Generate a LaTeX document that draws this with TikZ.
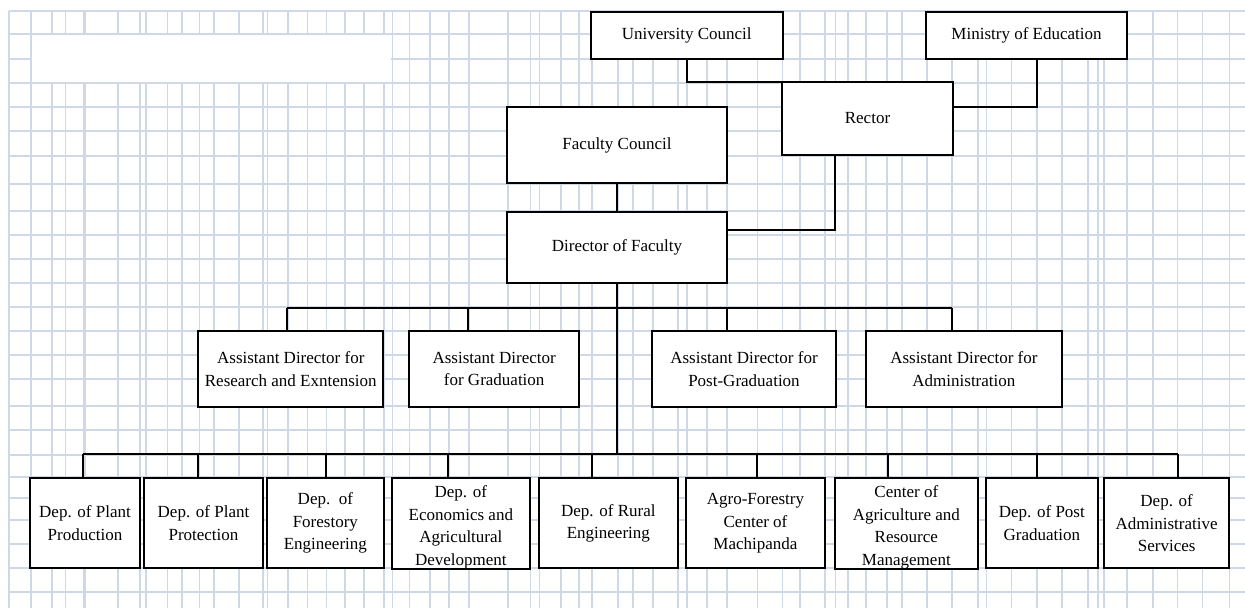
\documentclass[tikz,border=0pt]{standalone}
\usepackage{fontspec}
\setmainfont{Liberation Serif}
\usetikzlibrary{calc}
\definecolor{gridc}{HTML}{CFD8E6}
\tikzset{
  gridline/.style={draw=gridc, line width=1.7pt},
  box/.style={draw=black, line width=2pt, fill=white, align=center,
    inner sep=0pt, outer sep=0pt, font=\fontsize{17}{22.5}\selectfont},
  conn/.style={draw=black, line width=2pt},
}
% taller first line, so that a four-line label sits a little low in its box
\newcommand{\lowstart}{\rule{0pt}{20pt}}
\begin{document}
\begin{tikzpicture}[x=1pt,y=-1pt]
\useasboundingbox (0,0) rectangle (1245,608);
\fill[white] (0,0) rectangle (1245,608);

% cell grid of the page
\foreach \x in {8.7,30.8,51.8,65.6,118.2,139.9,145.8,167.6,181.8,199.6,213.8,
  238.7,262.8,267.6,287.7,307.5,326.5,344.7,364,384.2,392.5,409.5,430,449,
  469.2,508.3,530.4,539.5,560.9,579,592,618,632.7,652.7,678.2,686.9,706.9,
  726.8,757.5,782.5,800.1,825.2,835.5,847.9,865.8,887.3,901.7,926.8,951.9,
  977.8,986.5,1011.6,1037.1,1062.2,1087.7,1097.7,1104.1,1127.2,1152.7,
  1177.4,1202.5,1229.6}
  \draw[gridline] (\x,11) -- (\x,608);
\draw[gridline, line width=3pt] (84.6,11) -- (84.6,608);
\foreach \y in {11,34,59,83,107,131,156,184,211,235,259,283,307,331,355,
  379,406,430,455,477,498,520,544,568,592}
  \draw[gridline] (8.7,\y) -- (1245,\y);
% merged blank cell at top left
\fill[white] (32.3,35.4) rectangle (391.1,81.6);

% governing bodies
\node[box, minimum width=192pt, minimum height=47pt] (UC) at (686.7,35.2) {University Council};
\node[box, minimum width=201pt, minimum height=47pt] (ME) at (1026.5,35.2) {Ministry of Education};
\node[box, minimum width=171pt, minimum height=73pt] (Rector) at (867.5,118.5) {Rector};
\node[box, minimum width=220pt, minimum height=76pt] (FC) at (617,145) {Faculty Council};
\node[box, minimum width=220pt, minimum height=71pt] (Dir) at (617,247.5) {Director of Faculty};

% assistant directors
\node[box, minimum width=185pt, minimum height=76pt] (AD1) at (290.8,369) {Assistant Director for\\Research and Exntension};
\node[box, minimum width=169.7pt, minimum height=76pt] (AD2) at (494.2,369) {Assistant Director\\for Graduation};
\node[box, minimum width=183.4pt, minimum height=76pt] (AD3) at (744,369) {Assistant Director for\\Post-Graduation};
\node[box, minimum width=196.8pt, minimum height=76pt] (AD4) at (963.9,369) {Assistant Director for\\Administration};

% departments and centres
\node[box, minimum width=110pt, minimum height=90pt] (D1) at (85,523.3) {Dep. of Plant\\Production};
\node[box, minimum width=118.4pt, minimum height=90pt] (D2) at (203.5,523.3) {Dep. of Plant\\Protection};
\node[box, minimum width=117.3pt, minimum height=90pt] (D3) at (325.35,523.3) {Dep.~~of\\Forestory\\Engineering};
\node[box, minimum width=138.3pt, minimum height=90pt] (D4) at (460.85,523.3) {\lowstart Dep. of\\Economics and\\Agricultural\\Development};
\node[box, minimum width=138.7pt, minimum height=90pt] (D5) at (608.35,523.3) {Dep. of Rural\\Engineering};
\node[box, minimum width=139pt, minimum height=90pt] (D6) at (755.5,523.3) {Agro-Forestry\\Center of\\Machipanda};
\node[box, minimum width=142.7pt, minimum height=90pt] (D7) at (906.35,523.3) {\lowstart Center of\\Agriculture and\\Resource\\Management};
\node[box, minimum width=111.7pt, minimum height=90pt] (D8) at (1041.85,523.3) {Dep. of Post\\Graduation};
\node[box, minimum width=125.3pt, minimum height=90pt] (D9) at (1166.65,523.3) {Dep. of\\Administrative\\Services};
% the lowered labels run into the bottom border: draw those edges again on top
\draw[conn] (D4.south west) -- (D4.south east);
\draw[conn] (D7.south west) -- (D7.south east);

% knee points of the upper connectors
\coordinate (kME) at (1036.7,106.7);
\coordinate (kR) at (835,230);
\draw[conn] (UC.south) |- (Rector.north west);
\draw[conn] (ME.south -| kME) |- (Rector.east |- kME);
\draw[conn] (Rector.south -| kR) |- (Dir.east |- kR);
\draw[conn] (FC.south) -- (Dir.north);

% bus to the assistant directors
\coordinate (a1) at (287.3,307.7);
\coordinate (a2) at (468.3,307.7);
\coordinate (a3) at (726.7,307.7);
\coordinate (a4) at (952.3,307.7);
\draw[conn] (a1) -- (a4);
\draw[conn] (a1) -- (a1 |- AD1.north);
\draw[conn] (a2) -- (a2 |- AD2.north);
\draw[conn] (a3) -- (a3 |- AD3.north);
\draw[conn] (a4) -- (a4 |- AD4.north);

% bus to the departments
\coordinate (b1) at (83.3,454);
\coordinate (b2) at (198.3,454);
\coordinate (b3) at (326,454);
\coordinate (b4) at (448.3,454);
\coordinate (b5) at (591.7,454);
\coordinate (b6) at (757.3,454);
\coordinate (b7) at (887.7,454);
\coordinate (b8) at (1037.3,454);
\coordinate (b9) at (1177.7,454);
\draw[conn] (Dir.south) -- (Dir.south |- b1);
\draw[conn] (b1) -- (b9);
\foreach \i in {1,...,9}
  \draw[conn] (b\i) -- (b\i |- D\i.north);
\end{tikzpicture}
\end{document}
